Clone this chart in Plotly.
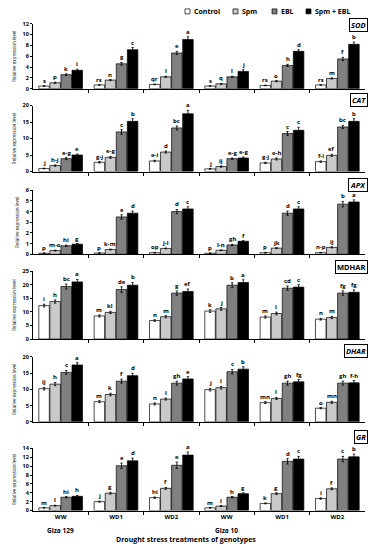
import plotly.graph_objects as go

# ---------------- data ----------------
GROUPS = ["WW", "WD1", "WD2", "WW", "WD1", "WD2"]
GENOTYPES = ["Giza 129", "Giza 10"]
SERIES = ["Control", "Spm", "EBL", "Spm + EBL"]
GENES = ["SOD", "CAT", "APX", "MDHAR", "DHAR", "GR"]

# SOD
sod_ctrl = [0.5, 0.7, 0.8, 0.5, 0.6, 0.7]
sod_spm = [1.1, 1.6, 2.2, 0.9, 1.4, 1.9]
sod_ebl = [2.6, 4.6, 6.6, 2.2, 4.3, 5.5]
sod_mix = [3.4, 7.2, 9.1, 3.2, 6.9, 8.2]
sod_err_ctrl = [0.05, 0.05, 0.05, 0.05, 0.05, 0.05]
sod_err_spm = [0.1, 0.1, 0.1, 0.08, 0.1, 0.1]
sod_err_ebl = [0.15, 0.25, 0.3, 0.1, 0.2, 0.3]
sod_err_mix = [0.2, 0.4, 0.5, 0.3, 0.3, 0.4]
sod_let_ctrl = ["s", "rs", "qr", "s", "rs", "rs"]
sod_let_spm = ["p", "n", "l", "q", "o", "m"]
sod_let_ebl = ["k", "g", "e", "l", "h", "f"]
sod_let_mix = ["i", "c", "a", "j", "d", "b"]

# CAT
cat_ctrl = [0.9, 2.8, 3.2, 0.8, 2.6, 3.0]
cat_spm = [1.8, 4.3, 5.9, 1.5, 3.8, 4.9]
cat_ebl = [3.9, 12.0, 13.2, 3.9, 11.5, 13.5]
cat_mix = [5.0, 15.2, 17.5, 4.1, 12.5, 15.2]
cat_err_ctrl = [0.1, 0.2, 0.2, 0.1, 0.2, 0.2]
cat_err_spm = [0.2, 0.3, 0.3, 0.2, 0.3, 0.3]
cat_err_ebl = [0.3, 0.7, 0.6, 0.2, 0.6, 0.5]
cat_err_mix = [0.3, 0.8, 1.0, 0.3, 0.9, 0.8]
cat_let_ctrl = ["j", "g-j", "e-i", "j", "g-j", "f-i"]
cat_let_spm = ["h-j", "e-g", "d", "ij", "e-h", "ef"]
cat_let_ebl = ["e-g", "c", "bc", "e-g", "c", "bc"]
cat_let_mix = ["e", "b", "a", "e-g", "c", "b"]

# APX
apx_ctrl = [0.1, 0.12, 0.15, 0.1, 0.15, 0.15]
apx_spm = [0.35, 0.45, 0.55, 0.38, 0.58, 0.65]
apx_ebl = [0.8, 3.5, 4.0, 0.88, 3.85, 4.7]
apx_mix = [0.95, 3.85, 4.25, 1.22, 4.25, 4.9]
apx_err_ctrl = [0.02, 0.03, 0.03, 0.02, 0.03, 0.03]
apx_err_spm = [0.04, 0.04, 0.04, 0.03, 0.05, 0.05]
apx_err_ebl = [0.06, 0.2, 0.2, 0.06, 0.2, 0.25]
apx_err_mix = [0.06, 0.2, 0.2, 0.06, 0.2, 0.2]
apx_let_ctrl = ["p", "p", "op", "p", "p", "n-p"]
apx_let_spm = ["m-o", "k-m", "j-l", "l-n", "jk", "ij"]
apx_let_ebl = ["hi", "e", "d", "gh", "d", "b"]
apx_let_mix = ["g", "d", "c", "f", "c", "a"]

# MDHAR
mdhar_ctrl = [12.3, 8.5, 6.8, 10.3, 8.1, 7.3]
mdhar_spm = [13.8, 9.8, 8.2, 11.1, 9.4, 7.9]
mdhar_ebl = [19.3, 18.2, 16.9, 19.8, 18.7, 16.9]
mdhar_mix = [21.0, 19.8, 17.5, 20.8, 19.1, 17.2]
mdhar_err_ctrl = [0.5, 0.4, 0.3, 0.5, 0.4, 0.3]
mdhar_err_spm = [0.6, 0.4, 0.4, 0.5, 0.5, 0.4]
mdhar_err_ebl = [0.9, 1.0, 0.8, 0.9, 0.8, 0.8]
mdhar_err_mix = [0.9, 1.0, 0.9, 1.0, 0.9, 0.9]
mdhar_let_ctrl = ["i", "m", "n", "k", "m", "n"]
mdhar_let_spm = ["h", "kl", "m", "j", "l", "m"]
mdhar_let_ebl = ["bc", "de", "g", "b", "cd", "fg"]
mdhar_let_mix = ["a", "b", "ef", "a", "c", "fg"]

# DHAR
dhar_ctrl = [10.2, 6.2, 5.5, 9.9, 5.9, 4.2]
dhar_spm = [11.6, 8.4, 7.0, 10.5, 7.2, 6.0]
dhar_ebl = [15.2, 12.5, 11.9, 15.4, 11.9, 11.9]
dhar_mix = [17.5, 14.2, 13.2, 16.2, 12.3, 12.0]
dhar_err_ctrl = [0.4, 0.3, 0.3, 0.4, 0.3, 0.2]
dhar_err_spm = [0.5, 0.4, 0.3, 0.4, 0.3, 0.3]
dhar_err_ebl = [0.6, 0.6, 0.6, 0.7, 0.6, 0.6]
dhar_err_mix = [0.7, 0.7, 0.7, 0.7, 0.7, 0.7]
dhar_let_ctrl = ["ij", "m", "n", "j", "mn", "o"]
dhar_let_spm = ["h", "k", "l", "i", "l", "mn"]
dhar_let_ebl = ["c", "f", "gh", "c", "gh", "gh"]
dhar_let_mix = ["a", "d", "e", "b", "fg", "f-h"]

# GR
gr_ctrl = [0.6, 2.0, 2.9, 0.6, 1.6, 2.7]
gr_spm = [1.1, 3.9, 5.0, 1.0, 3.8, 4.9]
gr_ebl = [3.0, 10.1, 10.2, 3.0, 11.1, 11.6]
gr_mix = [3.2, 11.2, 12.5, 3.8, 11.6, 12.1]
gr_err_ctrl = [0.05, 0.1, 0.15, 0.05, 0.1, 0.15]
gr_err_spm = [0.1, 0.2, 0.2, 0.1, 0.2, 0.2]
gr_err_ebl = [0.15, 0.6, 0.7, 0.15, 0.6, 0.6]
gr_err_mix = [0.2, 0.6, 0.7, 0.2, 0.6, 0.6]
gr_let_ctrl = ["m", "j", "hi", "m", "k", "i"]
gr_let_spm = ["l", "g", "f", "l", "g", "f"]
gr_let_ebl = ["hi", "e", "e", "h", "d", "c"]
gr_let_mix = ["h", "d", "a", "g", "c", "b"]

# y axis ticks per gene
sod_ticks = [0, 2, 4, 6, 8, 10, 12]
cat_ticks = [0, 5, 10, 15, 20]
apx_ticks = [0, 1, 2, 3, 4, 5, 6]
mdhar_ticks = [0, 5, 10, 15, 20, 25]
dhar_ticks = [0, 5, 10, 15, 20]
gr_ticks = [0, 2, 4, 6, 8, 10, 12, 14]

# ---------------- assembly ----------------
panels = [
    ("SOD", [sod_ctrl, sod_spm, sod_ebl, sod_mix],
     [sod_err_ctrl, sod_err_spm, sod_err_ebl, sod_err_mix],
     [sod_let_ctrl, sod_let_spm, sod_let_ebl, sod_let_mix], sod_ticks, True),
    ("CAT", [cat_ctrl, cat_spm, cat_ebl, cat_mix],
     [cat_err_ctrl, cat_err_spm, cat_err_ebl, cat_err_mix],
     [cat_let_ctrl, cat_let_spm, cat_let_ebl, cat_let_mix], cat_ticks, True),
    ("APX", [apx_ctrl, apx_spm, apx_ebl, apx_mix],
     [apx_err_ctrl, apx_err_spm, apx_err_ebl, apx_err_mix],
     [apx_let_ctrl, apx_let_spm, apx_let_ebl, apx_let_mix], apx_ticks, True),
    ("MDHAR", [mdhar_ctrl, mdhar_spm, mdhar_ebl, mdhar_mix],
     [mdhar_err_ctrl, mdhar_err_spm, mdhar_err_ebl, mdhar_err_mix],
     [mdhar_let_ctrl, mdhar_let_spm, mdhar_let_ebl, mdhar_let_mix], mdhar_ticks, False),
    ("DHAR", [dhar_ctrl, dhar_spm, dhar_ebl, dhar_mix],
     [dhar_err_ctrl, dhar_err_spm, dhar_err_ebl, dhar_err_mix],
     [dhar_let_ctrl, dhar_let_spm, dhar_let_ebl, dhar_let_mix], dhar_ticks, True),
    ("GR", [gr_ctrl, gr_spm, gr_ebl, gr_mix],
     [gr_err_ctrl, gr_err_spm, gr_err_ebl, gr_err_mix],
     [gr_let_ctrl, gr_let_spm, gr_let_ebl, gr_let_mix], gr_ticks, True),
]

W, H = 373, 550
COLORS = ["#ffffff", "#c9c9c9", "#808080", "#000000"]
OFFSETS = [-0.3, -0.1, 0.1, 0.3]
BAR_W = 0.19
# panel pixel bounds (top of axis, bottom of axis) and tag centre y
PIX = [(20, 86, 21), (103, 170, 97), (189, 254, 184),
       (271, 340, 267), (358, 424, 352), (451, 514, 439)]
X0, X1 = 33, 365
FONT = "Open Sans"

fig = go.Figure()
annotations = []
shapes = []

for i, (gene, vals, errs, lets, ticks, italic) in enumerate(panels):
    n = i + 1
    xa = "x" if n == 1 else f"x{n}"
    ya = "y" if n == 1 else f"y{n}"
    for s in range(4):
        xs = [g + OFFSETS[s] for g in range(len(GROUPS))]
        fig.add_trace(go.Bar(
            x=xs, y=vals[s], width=BAR_W, name=SERIES[s],
            marker=dict(color=COLORS[s], line=dict(color="black", width=0.7)),
            error_y=dict(type="data", array=errs[s], color="black",
                         thickness=0.8, width=1.2),
            xaxis=xa, yaxis=ya, legendgroup=SERIES[s], showlegend=False,
        ))
        # significance letters above each error bar
        for xv, v, e, t in zip(xs, vals[s], errs[s], lets[s]):
            annotations.append(dict(
                text=t, x=xv, y=v + e, xref=xa, yref=ya, showarrow=False,
                xanchor="center", yanchor="bottom", borderpad=0,
                font=dict(family=FONT, size=6, color="#000000", weight="bold"),
            ))
    top, bot, tagy = PIX[i]
    last = (n == len(panels))
    fig.layout[f"xaxis{'' if n == 1 else n}"] = dict(
        domain=[X0 / W, X1 / W], range=[-0.5, 5.5], anchor=ya,
        showline=True, linecolor="black", linewidth=1,
        tickvals=list(range(len(GROUPS))), ticktext=GROUPS,
        showticklabels=last, ticks="",
        tickfont=dict(family=FONT, size=6, color="black", weight="bold"),
        minor=dict(tickmode="array", tickvals=[0.5, 1.5, 2.5, 3.5, 4.5],
                   ticks="outside", ticklen=3, tickcolor="black", tickwidth=1),
        showgrid=False, zeroline=False, fixedrange=True,
    )
    fig.layout[f"yaxis{'' if n == 1 else n}"] = dict(
        domain=[1 - bot / H, 1 - top / H], range=[0, ticks[-1]], anchor=xa,
        tickvals=ticks, ticks="outside", ticklen=2, tickcolor="black",
        showline=True, linecolor="black", linewidth=1,
        tickfont=dict(family=FONT, size=5.5, color="black", weight="bold"),
        title=dict(text="Relative expression level", standoff=6,
                   font=dict(family=FONT, size=4.5, color="black")),
        showgrid=False, zeroline=False, fixedrange=True,
    )
    label = f"<i>{gene}</i>" if italic else gene
    annotations.append(dict(
        text=label, xref="paper", yref="paper", x=368 / W, y=1 - tagy / H,
        xanchor="right", yanchor="middle", showarrow=False,
        font=dict(family=FONT, size=7.5, color="black", weight="bold"),
        bordercolor="black", borderwidth=1, borderpad=1, bgcolor="white",
    ))

# legend drawn as swatches + labels (compact, as in the reference)
LEG_X = [185, 233, 272, 306]
for s, name in enumerate(SERIES):
    x0 = LEG_X[s]
    shapes.append(dict(type="rect", xref="paper", yref="paper",
                       x0=x0 / W, x1=(x0 + 5) / W, y0=1 - 10 / H, y1=1 - 5 / H,
                       fillcolor=COLORS[s], line=dict(color="black", width=0.7)))
    annotations.append(dict(
        text=name, xref="paper", yref="paper", x=(x0 + 7) / W, y=1 - 7.5 / H,
        xanchor="left", yanchor="middle", showarrow=False,
        font=dict(family=FONT, size=7, color="black", weight="bold"),
    ))

# genotype labels and axis title under the bottom panel
for k, geno in enumerate(GENOTYPES):
    gx = X0 + (0.5 + 3 * k) / 6 * (X1 - X0)
    annotations.append(dict(
        text=geno, xref="paper", yref="paper", x=gx / W, y=1 - 534 / H,
        xanchor="center", yanchor="middle", showarrow=False,
        font=dict(family=FONT, size=6.5, color="black", weight="bold"),
    ))
annotations.append(dict(
    text="Drought stress treatments of genotypes", xref="paper", yref="paper",
    x=186 / W, y=1 - 543 / H, xanchor="center", yanchor="middle", showarrow=False,
    font=dict(family=FONT, size=7, color="black", weight="bold"),
))

fig.update_layout(
    width=W, height=H, margin=dict(l=0, r=0, t=0, b=0),
    paper_bgcolor="white", plot_bgcolor="white", barmode="overlay",
    annotations=annotations, shapes=shapes, showlegend=False,
)

fig.write_html("out.html", config={"displayModeBar": False, "staticPlot": True},
               post_script="document.body.style.margin='0';")
